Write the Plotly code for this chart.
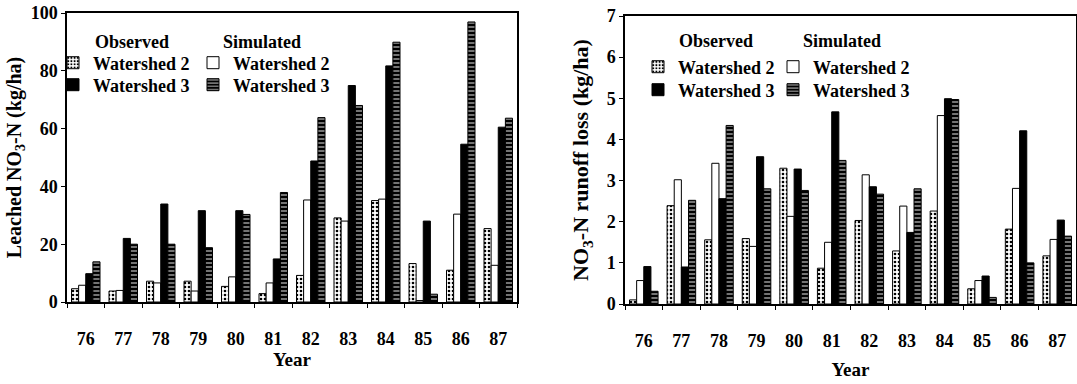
import plotly.graph_objects as go

W, H = 1077, 384

years = ["76", "77", "78", "79", "80", "81", "82", "83", "84", "85", "86", "87"]

# Leached NO3-N (kg/ha)
leach_obs_w2 = [4.6, 3.8, 7.2, 7.2, 5.4, 2.9, 9.2, 29.1, 35.1, 13.3, 11.0, 25.4]
leach_sim_w2 = [5.8, 4.0, 6.6, 3.8, 8.7, 6.6, 35.3, 28.0, 35.6, 0.5, 30.4, 12.7]
leach_obs_w3 = [9.8, 22.0, 33.9, 31.6, 31.6, 14.9, 48.8, 74.9, 81.7, 28.0, 54.6, 60.5]
leach_sim_w3 = [13.9, 20.0, 20.0, 18.8, 30.3, 37.9, 63.8, 68.0, 89.9, 2.7, 96.9, 63.6]

# NO3-N runoff loss (kg/ha)
run_obs_w2 = [0.10, 2.39, 1.56, 1.59, 3.30, 0.87, 2.03, 1.29, 2.26, 0.37, 1.82, 1.17]
run_sim_w2 = [0.57, 3.02, 3.42, 1.40, 2.13, 1.50, 3.14, 2.38, 4.58, 0.57, 2.81, 1.57]
run_obs_w3 = [0.91, 0.90, 2.56, 3.58, 3.28, 4.67, 2.85, 1.74, 4.99, 0.68, 4.21, 2.04]
run_sim_w3 = [0.31, 2.52, 4.34, 2.80, 2.76, 3.49, 2.67, 2.80, 4.97, 0.16, 1.00, 1.65]

FONT = "Liberation Serif"


def px_x(p):
    return p / W


def px_y(p):
    return 1 - p / H


styles = {
    "obs_w2": dict(color="white", line=dict(color="black", width=1),
                   pattern=dict(shape=".", fgcolor="black", bgcolor="white", size=4, solidity=0.35)),
    "sim_w2": dict(color="white", line=dict(color="black", width=1)),
    "obs_w3": dict(color="black", line=dict(color="black", width=1)),
    "sim_w3": dict(color="black", line=dict(color="black", width=1),
                   pattern=dict(shape="-", fgcolor="white", bgcolor="black", size=4, solidity=0.45,
                                fillmode="overlay")),
}

fig = go.Figure()

# (style key, values, legend id)
series_left = [("obs_w2", leach_obs_w2, "legend"), ("sim_w2", leach_sim_w2, "legend2"),
               ("obs_w3", leach_obs_w3, "legend3"), ("sim_w3", leach_sim_w3, "legend4")]
series_right = [("obs_w2", run_obs_w2, "legend5"), ("sim_w2", run_sim_w2, "legend6"),
                ("obs_w3", run_obs_w3, "legend7"), ("sim_w3", run_sim_w3, "legend8")]

for key, vals, lg in series_left:
    fig.add_trace(go.Bar(x=years, y=vals, name="Watershed " + key[-1], marker=styles[key],
                         xaxis="x", yaxis="y", legend=lg))
for key, vals, lg in series_right:
    fig.add_trace(go.Bar(x=years, y=vals, name="Watershed " + key[-1], marker=styles[key],
                         xaxis="x2", yaxis="y2", legend=lg))

tickfont = dict(family=FONT, size=18, color="black", weight="bold")
xtitlefont = dict(family=FONT, size=19, color="black", weight="bold")

common_x = dict(type="category", showline=True, linecolor="black", linewidth=1.5, mirror=True,
                ticks="outside", ticklen=4, tickcolor="black", tickson="boundaries",
                tickfont=tickfont, ticklabelstandoff=20, showgrid=False, zeroline=False,
                automargin=False)
common_y = dict(showline=True, linecolor="black", linewidth=1.5, mirror=True,
                ticks="outside", ticklen=4, tickcolor="black", tickfont=tickfont,
                showgrid=False, zeroline=False, automargin=False)


def leg(left_px, cy_px):
    return dict(orientation="v", xanchor="left", yanchor="middle", bgcolor="rgba(0,0,0,0)",
                borderwidth=0, itemwidth=30, tracegroupgap=0,
                x=px_x(left_px), y=px_y(cy_px),
                font=dict(family=FONT, size=18, color="black", weight="bold"))


hdr_font = dict(family=FONT, size=18, color="black", weight="bold")


def header(text, cx, cy):
    return dict(text=text, x=px_x(cx), y=px_y(cy), xref="paper", yref="paper",
                xanchor="center", yanchor="middle", showarrow=False, font=hdr_font)


fig.update_layout(
    template="none",
    width=W, height=H,
    margin=dict(l=0, r=0, t=0, b=0, autoexpand=False),
    paper_bgcolor="white", plot_bgcolor="white",
    barmode="group", bargap=0.24, bargroupgap=0,
    showlegend=True,
    xaxis=dict(common_x, domain=[px_x(67), px_x(517)], anchor="y",
               title=dict(text="Year", font=xtitlefont, standoff=2)),
    yaxis=dict(common_y, domain=[px_y(302), px_y(13)], anchor="x", range=[0, 100], dtick=20,
               title=dict(text="Leached NO<sub>3</sub>-N (kg/ha)",
                          font=dict(family=FONT, size=20, color="black", weight="bold"), standoff=4)),
    xaxis2=dict(common_x, domain=[px_x(625), px_x(1076)], anchor="y2",
                title=dict(text="Year", font=xtitlefont, standoff=12)),
    yaxis2=dict(common_y, domain=[px_y(304), px_y(16)], anchor="x2", range=[0, 7], dtick=1,
                title=dict(text="NO<sub>3</sub>-N runoff loss (kg/ha)",
                           font=dict(family=FONT, size=22, color="black", weight="bold"), standoff=12)),
    legend=leg(53, 63),
    legend2=leg(193, 63),
    legend3=leg(53, 85),
    legend4=leg(193, 85),
    legend5=leg(638, 67),
    legend6=leg(773, 67),
    legend7=leg(638, 90),
    legend8=leg(773, 90),
    annotations=[
        header("Observed", 132, 42),
        header("Simulated", 262, 42),
        header("Observed", 716, 41),
        header("Simulated", 842, 41),
    ],
)

fig.write_html("out.html", config={"displayModeBar": False},
               post_script="document.body.style.margin='0';document.body.style.overflow='hidden';")
